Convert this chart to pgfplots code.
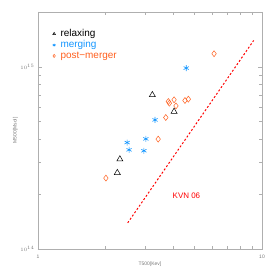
\documentclass[border=0pt]{standalone}
\usepackage{fontspec}
\setmainfont{Liberation Sans}
\usepackage{pgfplots}
\pgfplotsset{compat=1.18}
\definecolor{axgray}{RGB}{175,175,175}
\definecolor{txtgray}{RGB}{120,120,120}
\definecolor{mblue}{RGB}{20,150,255}
\definecolor{morange}{RGB}{255,95,30}
\begin{document}
\begin{tikzpicture}
\path[use as bounding box] (-38bp,-25bp) rectangle (236bp,249bp);
\begin{axis}[
  at={(0,0)}, anchor=south west,
  scale only axis, width=224bp, height=237bp,
  xmode=log, ymode=log,
  xmin=1, xmax=10, ymin=1e14, ymax=2e15,
  xtick={1,10}, xticklabels={1,10},
  ytick={1e14,1e15},
  tick align=inside,
  major tick length=4bp, minor tick length=3bp,
  axis line style={axgray, line width=0.8pt},
  every tick/.style={axgray, line width=0.5pt},
  tick label style={txtgray, font=\fontsize{5}{6}\selectfont},
  xticklabel style={yshift=-3bp},
  xlabel={T500[Kev]}, ylabel={M500[Msol]},
  label style={txtgray, font=\fontsize{5}{6}\selectfont},
  xlabel style={yshift=4bp},
  ylabel style={yshift=-4bp},
  legend style={draw=none, fill=none, at={(0.065,0.935)}, anchor=north west,
    font=\fontsize{10}{10}\selectfont, row sep=-1.5pt, column sep=3bp, inner sep=0pt},
  legend image post style={mark size=1.6bp},
  legend cell align=left,
  clip=false,
]
\addplot[only marks, mark=triangle, mark size=3.5bp, black, mark options={line width=0.5pt}]
 coordinates {(3.24,7.01e14) (4.05,5.68e14) (2.32,3.11e14) (2.26,2.62e14)};
\addlegendentry[text=black]{relaxing}
\addplot[only marks, mark=asterisk, mark size=3bp, mblue, mark options={line width=0.6pt}]
 coordinates {(4.59,9.84e14) (3.33,5.11e14) (3.03,4.02e14) (2.50,3.84e14) (2.55,3.50e14) (2.97,3.46e14)};
\addlegendentry[text=mblue]{merging}
\addplot[only marks, mark=diamond, mark size=3bp, morange, mark options={line width=0.5pt}]
 coordinates {(6.11,1.18e15) (3.82,6.45e14) (3.86,6.31e14) (4.05,6.59e14) (4.13,6.10e14)
   (4.53,6.53e14) (4.69,6.64e14) (3.72,5.27e14) (3.44,4.01e14) (2.01,2.45e14)};
\addlegendentry[text=morange]{post{\textminus}merger}
\addplot[red, line width=1pt, dash pattern=on 2bp off 2bp, forget plot]
 coordinates {(2.514,1.39e14) (9.18,1.395e15)};
\node[red, font=\fontsize{8}{8}\selectfont] at (axis cs:4.6,1.95e14) {KVN 06};
\end{axis}
\end{tikzpicture}
\end{document}
